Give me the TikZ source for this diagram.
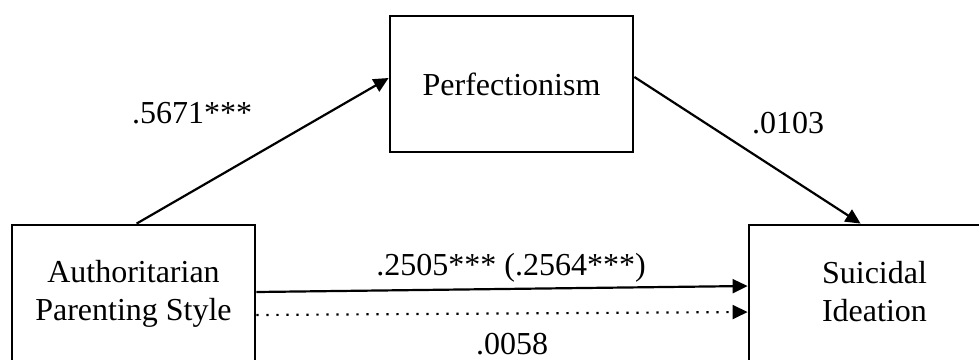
\documentclass[tikz,border=0pt]{standalone}
\usepackage{fontspec}
\setmainfont{Liberation Serif}
\usetikzlibrary{arrows.meta}
\begin{document}
\begin{tikzpicture}[x=1pt,y=-1pt,
  box/.style={draw=black,line width=2.8pt,rectangle,inner sep=0pt},
  lbl/.style={font=\fontsize{32}{38}\selectfont,inner sep=0pt},
  conn/.style={line width=2.2pt,-{Triangle[length=15pt,width=14pt]}},
  dotconn/.style={conn,dash pattern=on 2.2pt off 7.8pt}]
\useasboundingbox (0,0) rectangle (979,359);
\clip (0,0) rectangle (979,359);
\node[box,minimum width=243pt,minimum height=136pt,font=\fontsize{32}{38}\selectfont] (per) at (511.5,84) {Perfectionism};
\node[box,minimum width=243pt,minimum height=200pt] (aps) at (133.5,325) {};
\node[box,minimum width=251pt,minimum height=200pt] (si) at (874.5,325) {};
\node[lbl,align=center] (apstext) at (133.5,294) {Authoritarian\\Parenting Style};
\node[lbl,align=center] (sitext) at (874.5,292) {Suicidal\\Ideation};
\draw[conn] ([xshift=126pt]aps.north west) -- ([yshift=6pt]per.west);
\draw[conn] ([yshift=7pt]per.east) -- ([xshift=113pt]si.north west);
\draw[conn] ([yshift=33pt]aps.east) -- ([yshift=39pt]si.west);
\draw[dotconn] ([yshift=10pt]aps.east) -- ([yshift=13pt]si.west);
\node[lbl,anchor=base] (a) at (192,123) {.5671***};
\node[lbl,anchor=base] (b) at (788,133) {.0103};
\node[lbl,anchor=base] (c) at (511,275) {.2505*** (.2564***)};
\node[lbl,anchor=base] (cp) at (512,354) {.0058};
\end{tikzpicture}
\end{document}
